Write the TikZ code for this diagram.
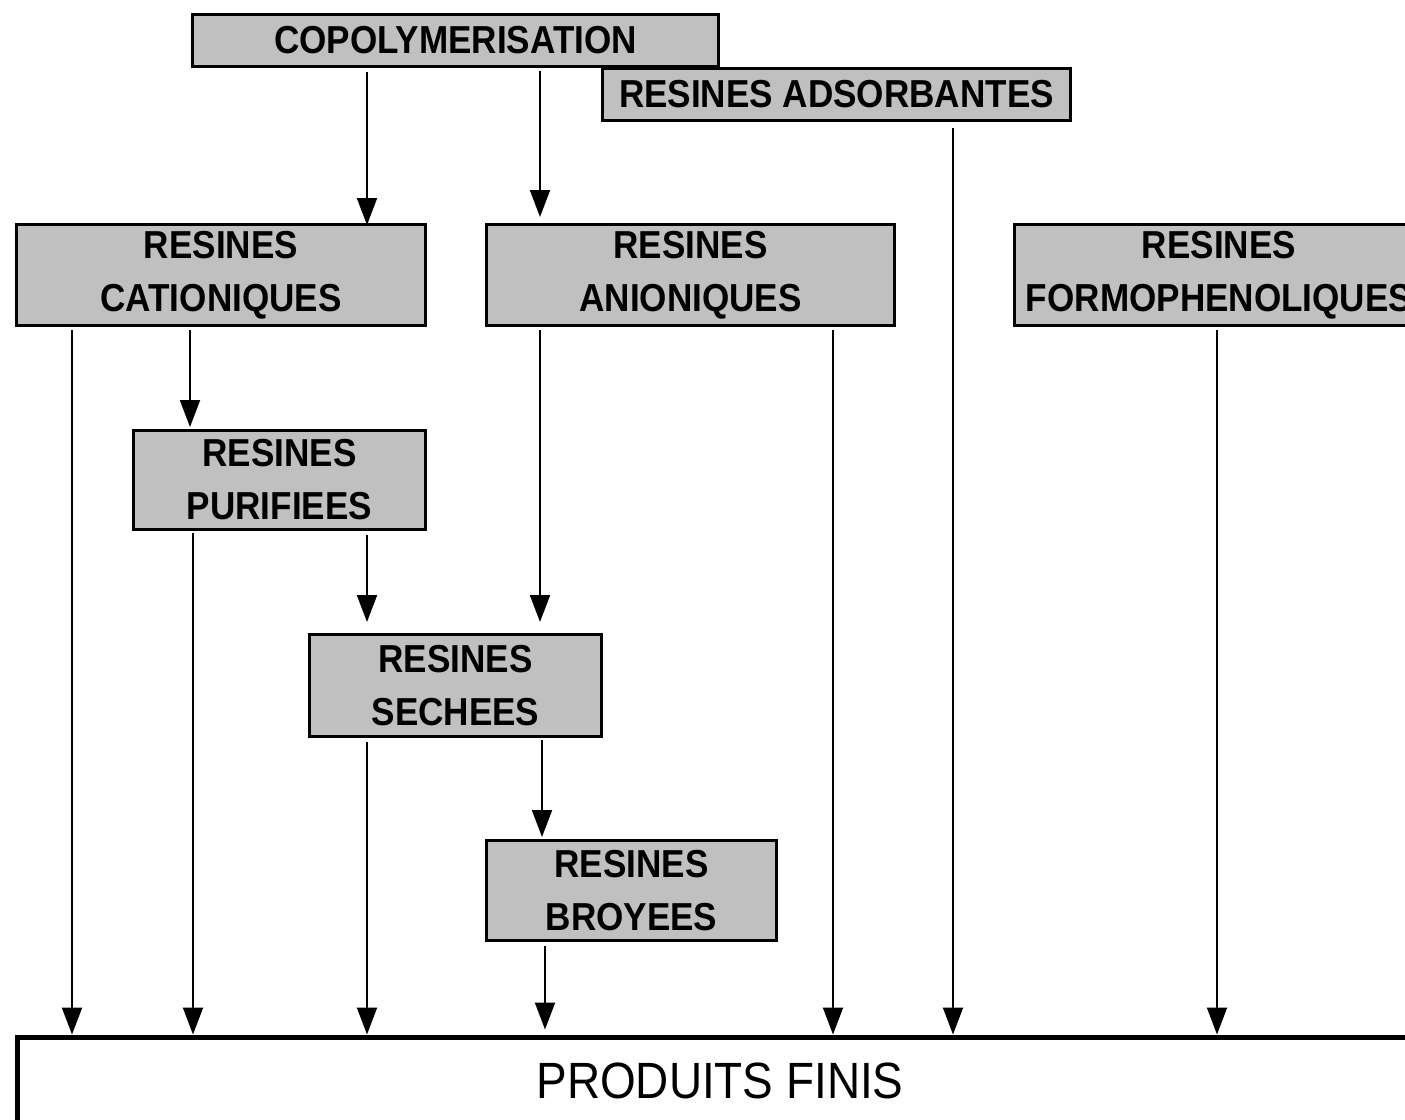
\documentclass[tikz,border=0pt]{standalone}
\usepackage{fontspec}
\setmainfont{Liberation Sans}[FakeStretch=0.9]
\usetikzlibrary{arrows.meta}
\definecolor{boxgray}{RGB}{192,192,192}
\begin{document}
\begin{tikzpicture}[x=1pt,y=-1pt,
  box/.style={draw=black,fill=boxgray,line width=3pt,inner sep=0pt,align=center,
    font=\bfseries\fontsize{39}{53}\selectfont},
  arr/.style={line width=2pt,-{Triangle[length=27pt,width=20pt]}}]
\useasboundingbox (0,0) rectangle (1405,1119);
\clip (0,0) rectangle (1405,1119);
% boxes
\node[box,minimum width=526pt,minimum height=52pt] (copo) at (455.5,40.5) {COPOLYMERISATION};
\node[box,minimum width=468pt,minimum height=52pt] (adso) at (836.5,94.5) {RESINES ADSORBANTES};
\node[box,minimum width=409pt,minimum height=101pt] (cat) at (221,275) {RESINES\\CATIONIQUES};
\node[box,minimum width=408pt,minimum height=101pt] (ani) at (690.5,275) {RESINES\\ANIONIQUES};
\node[box,minimum width=409pt,minimum height=101pt] (formo) at (1219,275) {RESINES\\FORMOPHENOLIQUES};
\node[box,minimum width=292pt,minimum height=99pt] (pur) at (279.5,480) {RESINES\\PURIFIEES};
\node[box,minimum width=292pt,minimum height=102pt] (sech) at (455.5,685.5) {RESINES\\SECHEES};
\node[box,minimum width=290pt,minimum height=100pt] (broy) at (631.5,890.5) {RESINES\\BROYEES};
\node[draw=black,fill=white,line width=5pt,inner sep=0pt,minimum width=1405pt,minimum height=88pt,
  font=\fontsize{51}{60}\selectfont] (prod) at (720,1081) {PRODUITS FINIS};
% x positions
\coordinate (xa) at (72,0);
\coordinate (xb) at (190,0);
\coordinate (xc) at (193,0);
\coordinate (xd) at (367,0);
\coordinate (xe) at (540,0);
\coordinate (xf) at (542,0);
\coordinate (xg) at (545,0);
\coordinate (xh) at (833,0);
\coordinate (xi) at (953,0);
\coordinate (xj) at (1217,0);
% connectors
\draw[arr,shorten <=4pt,shorten >=-2pt] (copo.south -| xd) -- (cat.north -| xd);
\draw[arr,shorten <=3pt,shorten >=6pt] (copo.south -| xe) -- (ani.north -| xe);
\draw[arr,shorten <=6pt] (adso.south -| xi) -- (prod.north -| xi);
\draw[arr,shorten <=3pt] (cat.south -| xa) -- (prod.north -| xa);
\draw[arr,shorten <=3pt,shorten >=2pt] (cat.south -| xb) -- (pur.north -| xb);
\draw[arr,shorten <=2pt] (pur.south -| xc) -- (prod.north -| xc);
\draw[arr,shorten <=4pt,shorten >=11pt] (pur.south -| xd) -- (sech.north -| xd);
\draw[arr,shorten <=3pt,shorten >=11pt] (ani.south -| xe) -- (sech.north -| xe);
\draw[arr,shorten <=3pt] (ani.south -| xh) -- (prod.north -| xh);
\draw[arr,shorten <=4pt] (sech.south -| xd) -- (prod.north -| xd);
\draw[arr,shorten <=2pt,shorten >=2pt] (sech.south -| xf) -- (broy.north -| xf);
\draw[arr,shorten <=4pt,shorten >=5pt] (broy.south -| xg) -- (prod.north -| xg);
\draw[arr,shorten <=3pt] (formo.south -| xj) -- (prod.north -| xj);
\end{tikzpicture}
\end{document}
